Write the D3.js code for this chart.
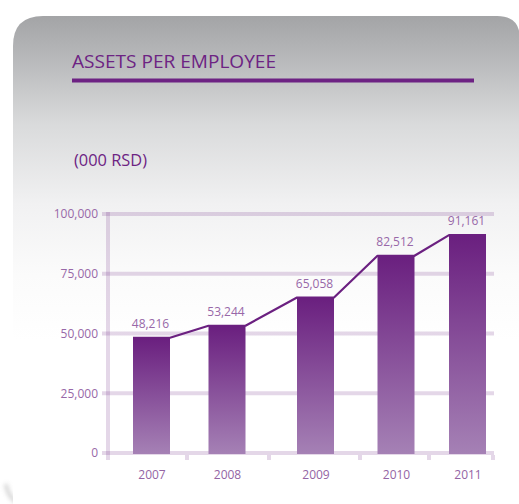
<!DOCTYPE html>
<html>
<head>
<meta charset="utf-8">
<script src="https://cdn.jsdelivr.net/npm/d3@7/dist/d3.min.js"></script>
<style>
  html, body { margin: 0; padding: 0; background: #ffffff; }
  svg { display: block; font-family: "Open Sans", "Noto Sans", sans-serif; }
</style>
</head>
<body>
<svg id="chart" width="519" height="504"></svg>
<script>
// Assets per employee, thousands of RSD
const years = ["2007", "2008", "2009", "2010", "2011"];
const assets = [48216, 53244, 65058, 82512, 91161];
const yTicks = [0, 25000, 50000, 75000, 100000];
const titleText = "ASSETS PER EMPLOYEE";
const unitText = "(000 RSD)";

const data = years.map((year, i) => ({ year, value: assets[i] }));

const svg = d3.select("#chart");
const defs = svg.append("defs");

// Card background gradient (grey at top fading to white)
const bg = defs.append("linearGradient")
  .attr("id", "cardFill").attr("gradientUnits", "userSpaceOnUse")
  .attr("x1", 0).attr("y1", 16).attr("x2", 0).attr("y2", 340);
[[0, "#a3a4a6"], [0.14, "#b9babc"], [0.33, "#d9dadb"], [0.58, "#f1f1f2"], [0.8, "#fbfbfb"], [1, "#ffffff"]]
  .forEach(([o, c]) => bg.append("stop").attr("offset", o).attr("stop-color", c));

// Bar gradient
const barFill = defs.append("linearGradient")
  .attr("id", "barFill").attr("x1", 0).attr("y1", 0).attr("x2", 0).attr("y2", 1);
barFill.append("stop").attr("offset", 0).attr("stop-color", "#6a1f7f");
barFill.append("stop").attr("offset", 1).attr("stop-color", "#a581b5");

const blur = defs.append("filter").attr("id", "soft")
  .attr("x", "-50%").attr("y", "-50%").attr("width", "200%").attr("height", "200%");
blur.append("feGaussianBlur").attr("stdDeviation", 2);

// Faint shadow at the card's lower-left corner
svg.append("path")
  .attr("d", "M6,484 Q8,500 24,506")
  .attr("fill", "none").attr("stroke", "#c4c4c4").attr("stroke-width", 4)
  .attr("filter", "url(#soft)").attr("opacity", 0.7);

// Card with rounded top corners
svg.append("path")
  .attr("d", "M13,505 L13,46 Q13,16 43,16 L497,16 Q520,16 520,39 L520,505 Z")
  .attr("fill", "url(#cardFill)");

// Title and rule
svg.append("text")
  .attr("x", 72).attr("y", 68)
  .attr("font-size", 18).attr("fill", "#6d2383")
  .attr("textLength", 204).attr("lengthAdjust", "spacingAndGlyphs")
  .text(titleText);
svg.append("rect")
  .attr("x", 72).attr("y", 78.5).attr("width", 402).attr("height", 4)
  .attr("fill", "#6d2283");

svg.append("text")
  .attr("x", 74).attr("y", 166)
  .attr("font-size", 15.5).attr("fill", "#6d2383")
  .attr("textLength", 73).attr("lengthAdjust", "spacingAndGlyphs")
  .text(unitText);

// Scales
const y = d3.scaleLinear().domain([0, 100000]).range([453, 214]);
const x = d3.scaleOrdinal().domain(years).range([151.5, 227, 315.5, 396, 467.5]);
const barWidth = 37;
const axisX = 108, gridRight = 494;
const columnEdges = [187, 269, 360, 429, 493];

const gridColor = "rgba(107, 32, 128, 0.18)";

// Horizontal gridlines
svg.append("g").selectAll("line").data(yTicks).join("line")
  .attr("x1", 102).attr("x2", gridRight)
  .attr("y1", d => y(d)).attr("y2", d => y(d))
  .attr("stroke", gridColor).attr("stroke-width", 4);

// Vertical axis line
svg.append("line")
  .attr("x1", axisX).attr("x2", axisX).attr("y1", y(100000) - 2).attr("y2", 460)
  .attr("stroke", gridColor).attr("stroke-width", 4);

// Column separators below the baseline
svg.append("g").selectAll("line").data(columnEdges).join("line")
  .attr("x1", d => d).attr("x2", d => d)
  .attr("y1", y(0) + 2).attr("y2", 460)
  .attr("stroke", gridColor).attr("stroke-width", 4);

// Y axis labels
const yAxis = svg.append("g")
  .attr("transform", `translate(${axisX},0)`)
  .call(d3.axisLeft(y).tickValues(yTicks).tickFormat(d3.format(",")).tickSize(0).tickPadding(10));
yAxis.select(".domain").remove();
yAxis.selectAll("text").attr("font-size", 12).attr("fill", "#9868a8")
  .attr("font-family", "'Open Sans', sans-serif");

// X axis labels
const xAxis = svg.append("g")
  .attr("transform", `translate(0,${y(0)})`)
  .call(d3.axisBottom(x).tickSize(0).tickPadding(17.5));
xAxis.select(".domain").remove();
xAxis.selectAll("text").attr("font-size", 12).attr("fill", "#9464a4")
  .attr("font-family", "'Open Sans', sans-serif");

// Bars
svg.append("g").selectAll("rect").data(data).join("rect")
  .attr("x", d => x(d.year) - barWidth / 2)
  .attr("y", d => y(d.value))
  .attr("width", barWidth)
  .attr("height", d => y(0) - y(d.value) + 1)
  .attr("fill", "url(#barFill)");

// Line tracing the bar tops
const pts = data.flatMap(d => [[x(d.year) - barWidth / 2, y(d.value)], [x(d.year) + barWidth / 2, y(d.value)]]);
svg.append("path")
  .attr("d", d3.line()(pts))
  .attr("fill", "none").attr("stroke", "#6b2080").attr("stroke-width", 2.2)
  .attr("stroke-linejoin", "round");

// Value labels
svg.append("g").selectAll("text").data(data).join("text")
  .attr("x", d => x(d.year) - 1)
  .attr("y", d => y(d.value) - 10)
  .attr("text-anchor", "middle")
  .attr("font-size", 12).attr("fill", "#9868a8")
  .text(d => d3.format(",")(d.value));
</script>
</body>
</html>
